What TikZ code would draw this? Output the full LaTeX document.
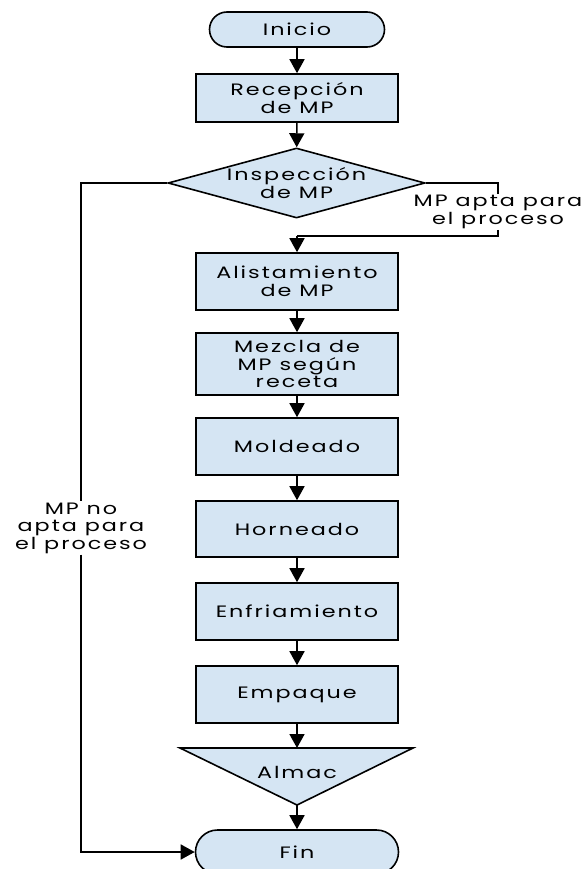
\documentclass[tikz,border=0pt]{standalone}
\usepackage{fontspec}
\setmainfont{Poppins}[LetterSpace=12,FakeStretch=1.35]
\usetikzlibrary{shapes.geometric,shapes.misc,arrows.meta}
\definecolor{boxfill}{RGB}{213,229,243}
\begin{document}
\begin{tikzpicture}[x=1pt,y=-1pt,
  font=\fontsize{16.5}{17.5}\selectfont,
  base/.style={draw=black,line width=1.6pt,fill=boxfill,align=center,inner sep=0pt},
  procbox/.style={base,rectangle,minimum width=202pt},
  termbox/.style={base,rounded rectangle},
  decbox/.style={base,diamond,minimum width=257pt,minimum height=70pt},
  conn/.style={line width=1.6pt},
  arr/.style={conn,-{Triangle[width=15pt,length=14pt]}},
  lbl/.style={fill=white,align=center,inner sep=1pt}]
\useasboundingbox (0,0) rectangle (585,869);
\node[termbox,minimum width=175pt,minimum height=35pt] (inicio) at (297,29.5) {Inicio};
\node[procbox,minimum height=48pt] (recep) at (297,98) {Recepción\\de MP};
\node[decbox] (insp) at (296.5,183) {};
\node[align=center,inner sep=0pt] (insptext) at (insp.center) {Inspección\\de MP};
\node[procbox,minimum height=57pt] (alist) at (297,281.5) {Alistamiento\\de MP};
\node[procbox,minimum height=62pt] (mezcla) at (297,364) {Mezcla de\\MP según\\receta};
\node[procbox,minimum height=57pt] (molde) at (297,446.5) {Moldeado};
\node[procbox,minimum height=56pt] (horno) at (297,529) {Horneado};
\node[procbox,minimum height=57pt] (enfri) at (297,611.5) {Enfriamiento};
\node[procbox,minimum height=57pt] (empaq) at (297,694.5) {Empaque};
\coordinate (altop) at (297,748);
\coordinate (albot) at (297,805);
\filldraw[base] (180,748) -- (413,748) -- (albot) -- cycle;
\node[inner sep=0pt] (almac) at (297,772) {Almac};
\node[termbox,minimum width=203pt,minimum height=44pt] (fin) at (297,852) {Fin};
\node[lbl] (apta) at (498,212) {MP apta para\\el proceso};
\node[lbl] (noapta) at (81,528) {MP no\\apta para\\el proceso};
\coordinate (turn) at (297,236);
\draw[arr] (inicio) -- (recep);
\draw[arr] (recep) -- (insp);
\draw[conn] (insp.east) -| (apta.north);
\draw[conn] (apta.south) |- (turn);
\draw[arr] (turn) -- (alist);
\draw[arr] (alist) -- (mezcla);
\draw[arr] (mezcla) -- (molde);
\draw[arr] (molde) -- (horno);
\draw[arr] (horno) -- (enfri);
\draw[arr] (enfri) -- (empaq);
\draw[arr] (empaq) -- (altop);
\draw[arr] (albot) -- (fin);
\draw[conn] (insp.west) -| (noapta.north);
\draw[arr] (noapta.south) |- (fin.west);
\end{tikzpicture}
\end{document}
